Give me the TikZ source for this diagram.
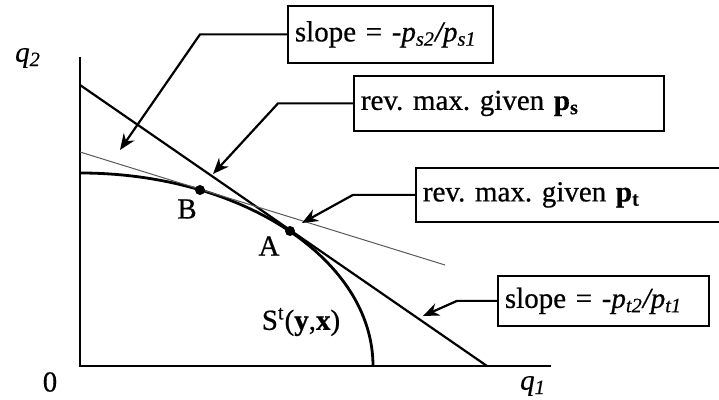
\documentclass[tikz,border=0pt]{standalone}
\usepackage{fontspec}
\setmainfont{Liberation Serif}[FakeBold=0.6]
\usetikzlibrary{positioning,arrows.meta}

\begin{document}
\frenchspacing
\begin{tikzpicture}[
    x=0.5pt, y=-0.5pt,
    axis/.style={line width=1.4pt},
    tangent/.style={line width=1.1pt},
    thinline/.style={line width=0.5pt, black!65},
    callout/.style={-{Stealth[length=8pt, width=6.5pt]}, line width=1.1pt},
    infobox/.style={draw, line width=0.9pt, anchor=north west, inner xsep=3.5pt, inner ysep=0pt, align=left, font=\fontsize{14.5}{16}\selectfont},
    dot/.style={circle, fill, inner sep=0pt, minimum size=5pt},
    lbl/.style={font=\fontsize{14.5}{16}\selectfont}
]
\useasboundingbox (0,0) rectangle (719,400);

% axes and frontier
\draw[axis] (80,57) -- (80,366) -- (551,366);
\draw[axis] (80,173) arc[start angle=-90, end angle=0, x radius=293, y radius=193];
\draw[tangent] (80,85) -- (487,366);
\draw[thinline] (80,152) -- (445,265);

\node[dot] (ptB) at (200,190) {};
\node[dot] (ptA) at (290,231) {};

\node[lbl] (q2) at (28,58) {\textit{q}\textsubscript{\textit{2}}};
\node[lbl] (zero) at (50,382) {0};
\node[lbl] (q1) at (533,386) {\textit{q}\textsubscript{\textit{1}}};
\node[lbl] (labB) at (187,209) {B};
\node[lbl] (labA) at (269,246) {A};
\node[lbl] (labS) at (301,322) {S\textsuperscript{t}(\textbf{y},\textbf{x})};

% boxes
\node[infobox, minimum width=102.5pt, minimum height=28.5pt, text width=95.5pt] (slopes) at (287,5)
    {slope = -\textit{p}\textsubscript{\textit{s2}}\textit{/p}\textsubscript{\textit{s1}}};
\node[infobox, minimum width=155pt, minimum height=27.5pt, text width=148pt] (revs) at (353,75)
    {rev. max. given \textbf{p}\textsubscript{\textbf{s}}};
\node[infobox, minimum width=165pt, minimum height=27pt, text width=158pt] (revt) at (415,167)
    {rev. max. given \textbf{p}\textsubscript{\textbf{t}}};
\node[infobox, minimum width=105.5pt, minimum height=25pt, text width=98.5pt] (slopet) at (497,275)
    {slope = -\textit{p}\textsubscript{\textit{t2}}\textit{/p}\textsubscript{\textit{t1}}};

\coordinate (tipss) at (120,150);
\coordinate (tiprs) at (213,174);
\coordinate (tiprt) at (302,223);
\coordinate (tipst) at (423,316);

\draw[callout] (slopes.west) -- ++(-87,0) -- (tipss);
\draw[callout] (revs.west) -- ++(-75,0) -- (tiprs);
\draw[callout] (revt.west) -- ++(-62,0) -- (tiprt);
\draw[callout] (slopet.west) -- ++(-40,0) -- (tipst);
\end{tikzpicture}
\end{document}
